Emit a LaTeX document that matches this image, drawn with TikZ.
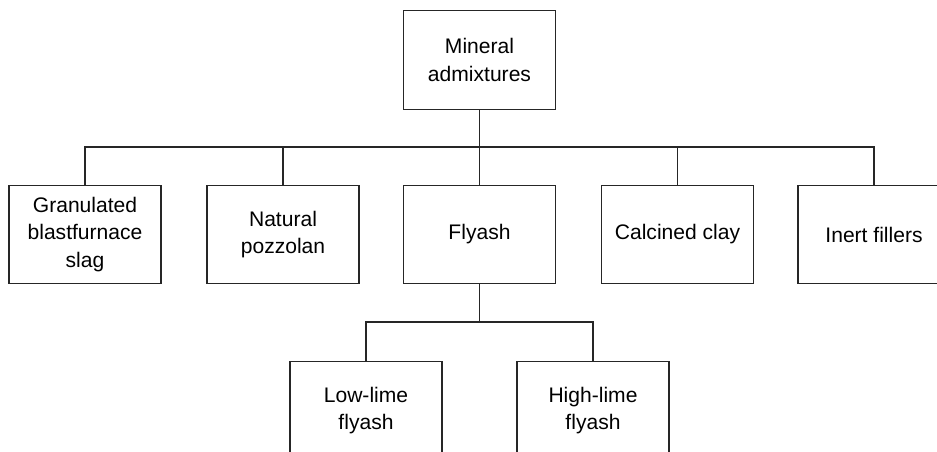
\documentclass[tikz,border=0pt]{standalone}
\usepackage{fontspec}
\setmainfont{Liberation Sans}
\begin{document}
\begin{tikzpicture}[x=0.75pt,y=-0.75pt,
  catbox/.style={draw=black!85, line width=0.8pt, fill=white, minimum width=114pt, minimum height=74pt, inner sep=0pt, align=center, font=\fontsize{15.8}{20.3}\selectfont},
  link/.style={draw=black!85, line width=0.8pt}]
\clip (0,0) rectangle (937,452);
\fill[white] (0,0) rectangle (937,452);
\node[catbox] (top) at (479.5,60) {Mineral\\admixtures};
\node[catbox] (b1) at (85,234.5) {Granulated\\blastfurnace\\slag};
\node[catbox] (b2) at (283,234.5) {Natural\\pozzolan};
\node[catbox] (b3) at (479.5,234.5) {Flyash};
\node[catbox] (b4) at (677.5,234.5) {Calcined clay};
\node[catbox] (b5) at (874,234.5) {Inert fillers};
\node[catbox] (c1) at (366,410.5) {Low-lime\\flyash};
\node[catbox] (c2) at (593,410.5) {High-lime\\flyash};
\coordinate (j1) at (479.5,147);
\coordinate (j2) at (479.5,322);
\draw[link] (top.south) -- (j1);
\draw[link] (j1) -| (b1.north);
\draw[link] (j1) -| (b2.north);
\draw[link] (j1) -- (b3.north);
\draw[link] (j1) -| (b4.north);
\draw[link] (j1) -| (b5.north);
\draw[link] (b3.south) -- (j2);
\draw[link] (j2) -| (c1.north);
\draw[link] (j2) -| (c2.north);
\end{tikzpicture}
\end{document}
